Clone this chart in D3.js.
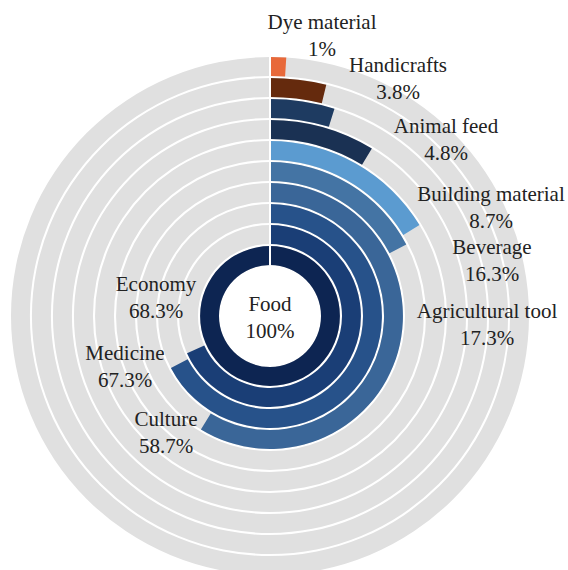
<!DOCTYPE html>
<html>
<head>
<meta charset="utf-8">
<script src="https://cdn.jsdelivr.net/npm/d3@7"></script>
<style>
  html, body { margin: 0; padding: 0; background: #ffffff; }
  svg { display: block; }
</style>
</head>
<body>
<svg id="chart" width="568" height="570"></svg>
<script>
// Uses of the plant, share of records (%), innermost ring first
const categories = ["Food", "Economy", "Medicine", "Culture", "Agricultural tool",
                    "Beverage", "Building material", "Animal feed", "Handicrafts", "Dye material"];
const values = [100, 68.3, 67.3, 58.7, 17.3, 16.3, 8.7, 4.8, 3.8, 1];
const colors = ["#0d2552", "#1a3e76", "#27528a", "#3a6698", "#4474a4",
                "#5b9bd0", "#1a3153", "#1e3b61", "#652a0d", "#e8693a"];

// Label anchors (text centre, baseline of first line), relative to the page
const labelLayout = {
  "Food":              [270, 311],
  "Economy":           [156, 291],
  "Medicine":          [125, 360],
  "Culture":           [166, 426],
  "Agricultural tool": [487, 318],
  "Beverage":          [492, 254],
  "Building material": [491, 201],
  "Animal feed":       [446, 133],
  "Handicrafts":       [398, 72],
  "Dye material":      [322, 29]
};

const W = 568, H = 570;
const cx = 270, cy = 316;
const innerR = 51, outerR = 259;
const lineGap = 27;
const serif = "'Liberation Serif', 'Times New Roman', Times, 'DejaVu Serif', serif";

const data = categories.map((c, i) => ({ cat: c, value: values[i], color: colors[i] }));

const svg = d3.select("#chart");
const g = svg.append("g").attr("transform", `translate(${cx},${cy})`);

const r = d3.scaleBand().domain(categories).range([innerR, outerR]).paddingInner(0.1).paddingOuter(0);
const angle = d3.scaleLinear().domain([0, 100]).range([0, 2 * Math.PI]);

const ring = d3.arc()
  .innerRadius(d => r(d.cat))
  .outerRadius(d => r(d.cat) + r.bandwidth())
  .startAngle(0);

// grey track for every ring
g.selectAll("path.track")
  .data(data)
  .join("path")
  .attr("class", "track")
  .attr("fill", "#e0e0e0")
  .attr("d", d => ring.endAngle(2 * Math.PI)(d));

// value bars
g.selectAll("path.bar")
  .data(data)
  .join("path")
  .attr("class", "bar")
  .attr("fill", d => d.color)
  .attr("d", d => ring.endAngle(angle(d.value))(d));

// start line at 12 o'clock
g.append("line")
  .attr("x1", 0).attr("x2", 0)
  .attr("y1", -innerR).attr("y2", -outerR - 1)
  .attr("stroke", "#ffffff")
  .attr("stroke-width", 2);

// labels
const labels = svg.append("g")
  .attr("font-family", serif)
  .attr("font-size", 21)
  .attr("fill", "#222222")
  .attr("text-anchor", "middle");

data.forEach(d => {
  const [x, y] = labelLayout[d.cat];
  const t = labels.append("text").attr("x", x).attr("y", y);
  t.append("tspan").attr("x", x).attr("y", y).text(d.cat);
  t.append("tspan").attr("x", x).attr("y", y + lineGap).text(d.value + "%");
});
</script>
</body>
</html>
